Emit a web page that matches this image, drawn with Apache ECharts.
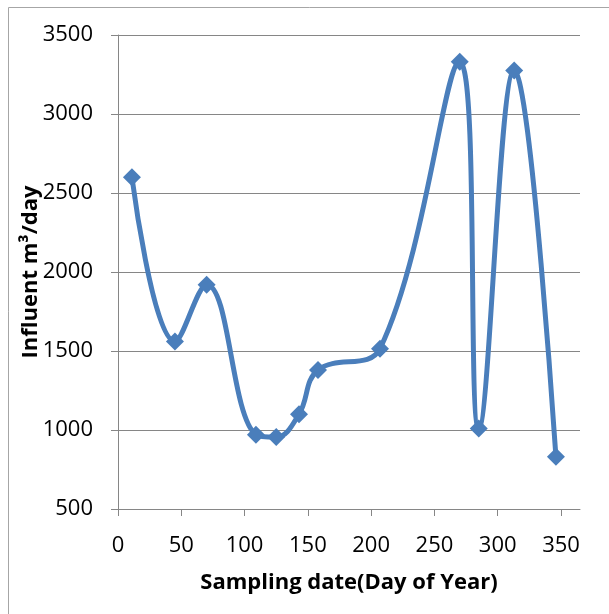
<!DOCTYPE html>
<html>
<head>
<meta charset="utf-8">
<style>
  html, body { margin: 0; padding: 0; background: #fff; }
  #chart { width: 609px; height: 614px; }
</style>
<script src="https://cdn.jsdelivr.net/npm/echarts@6/dist/echarts.min.js"></script>
</head>
<body>
<div id="chart"></div>
<script>
// sampling day of year and influent flow (m3/day)
var days = [11, 45, 70, 109, 125, 143, 158, 207, 270, 285, 313, 346];
var influent = [2600, 1560, 1920, 970, 955, 1100, 1380, 1515, 3330, 1010, 3275, 830];
var xTicks = [0, 50, 100, 150, 200, 250, 300, 350];

var points = days.map(function (d, i) { return [d, influent[i]]; });

var chart = echarts.init(document.getElementById('chart'));

var option = {
    animation: false,
    textStyle: { fontFamily: 'Open Sans' },
    graphic: [{
        type: 'rect',
        shape: { x: 8.5, y: 7.5, width: 640, height: 640 },
        style: { fill: 'none', stroke: '#a6a6a6', lineWidth: 1 },
        silent: true
    }],
    grid: { left: 118, right: 29, top: 35, bottom: 105 },
    xAxis: {
        type: 'value',
        min: 0,
        max: 365,
        name: 'Sampling date(Day of Year)',
        nameLocation: 'middle',
        nameGap: 63,
        nameMoveOverlap: false,
        nameTextStyle: { fontSize: 22, fontWeight: 'bold', color: '#000' },
        axisLine: { onZero: false, lineStyle: { color: '#868686', width: 1 } },
        axisTick: { show: true, length: 7, customValues: xTicks, lineStyle: { color: '#868686' } },
        axisLabel: { customValues: xTicks, fontSize: 22, color: '#000', margin: 26 },
        splitLine: { show: false }
    },
    yAxis: {
        type: 'value',
        min: 500,
        max: 3500,
        interval: 500,
        name: 'Influent m³/day',
        nameLocation: 'middle',
        nameGap: 76,
        nameMoveOverlap: false,
        nameTextStyle: { fontSize: 22, fontWeight: 'bold', color: '#000' },
        axisLine: { show: true, lineStyle: { color: '#868686', width: 1 } },
        axisTick: { show: true, length: 7, lineStyle: { color: '#868686' } },
        axisLabel: { fontSize: 22, color: '#000', margin: 25, formatter: function (v) { return String(v); } },
        splitLine: { show: true, lineStyle: { color: '#868686', width: 1 } }
    },
    series: [{
        type: 'line',
        data: points,
        smooth: 0.4,
        symbol: 'diamond',
        symbolSize: 18,
        lineStyle: { color: '#4a7ebb', width: 5 },
        itemStyle: { color: '#4a7ebb' }
    }]
};

chart.setOption(option);
</script>
</body>
</html>
